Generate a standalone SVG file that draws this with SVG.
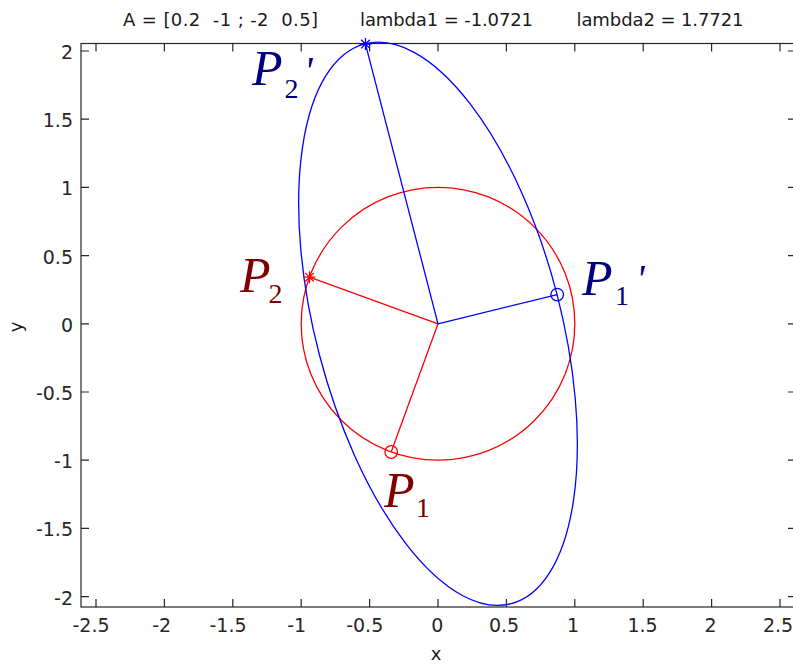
<svg xmlns="http://www.w3.org/2000/svg" width="793" height="664" viewBox="0 0 793 664">
<defs>
<style>
.ax{stroke:#262626;stroke-width:1.2;fill:none}
.tk{font-family:"DejaVu Sans",sans-serif;font-size:19px;fill:#262626}
.tkx{text-anchor:middle}
.tky{text-anchor:end}
.ttl{font-family:"DejaVu Sans",sans-serif;font-size:18px;fill:#1a1a1a}
.red{stroke:#ff0000;stroke-width:1.3;fill:none}
.blue{stroke:#0000ff;stroke-width:1.3;fill:none}
.lbl{font-family:"Liberation Serif","Times New Roman",serif}
.P{font-style:italic;font-size:50px}
.sub{font-size:28px}
.pr{font-style:italic;font-size:40px}
.dr{fill:#800000}
.nv{fill:#000080}
</style>
<path id="star" d="M-6,0H6M0,-6V6M-4.3,-4.3L4.3,4.3M-4.3,4.3L4.3,-4.3"/>
<circle id="ring" cx="0" cy="0" r="6.3"/>
</defs>
<rect width="793" height="664" fill="#ffffff"/>

<g id="title">
<text class="ttl" x="123" y="26" textLength="195" xml:space="preserve">A = [0.2  -1 ; -2  0.5]</text>
<text class="ttl" x="360" y="26" textLength="173">lambda1 = -1.0721</text>
<text class="ttl" x="576.5" y="26" textLength="167">lambda2 = 1.7721</text>
</g>

<g id="axes">
<rect class="ax" x="81" y="43.5" width="715" height="563.5"/>
<path class="ax" d="M96,607v-8M164.4,607v-8M232.8,607v-8M301.2,607v-8M369.6,607v-8M438,607v-8M506.4,607v-8M574.8,607v-8M643.2,607v-8M711.6,607v-8M780,607v-8
M96,43.5v8M164.4,43.5v8M232.8,43.5v8M301.2,43.5v8M369.6,43.5v8M438,43.5v8M506.4,43.5v8M574.8,43.5v8M643.2,43.5v8M711.6,43.5v8M780,43.5v8
M81,51h8M81,119.2h8M81,187.4h8M81,255.6h8M81,323.8h8M81,392h8M81,460.2h8M81,528.4h8M81,596.6h8
M796,51h-8M796,119.2h-8M796,187.4h-8M796,255.6h-8M796,323.8h-8M796,392h-8M796,460.2h-8M796,528.4h-8M796,596.6h-8"/>
<g class="tk tkx">
<text x="91" y="632">-2.5</text>
<text x="161.7" y="632">-2</text>
<text x="228" y="632">-1.5</text>
<text x="296.7" y="632">-1</text>
<text x="364.7" y="632">-0.5</text>
<text x="437.3" y="632">0</text>
<text x="504" y="632">0.5</text>
<text x="573" y="632">1</text>
<text x="642.5" y="632">1.5</text>
<text x="710.5" y="632">2</text>
<text x="778" y="632">2.5</text>
</g>
<g class="tk tky">
<text x="73" y="59">2</text>
<text x="73" y="127.2">1.5</text>
<text x="73" y="195.4">1</text>
<text x="73" y="263.6">0.5</text>
<text x="73" y="331.8">0</text>
<text x="73" y="400">-0.5</text>
<text x="73" y="468.2">-1</text>
<text x="73" y="536.4">-1.5</text>
<text x="73" y="604.6">-2</text>
</g>
<text class="ttl" x="436" y="660" text-anchor="middle">x</text>
<text class="ttl" transform="translate(22,327) rotate(-90)" text-anchor="middle">y</text>
</g>

<g id="unit-circle">
<ellipse class="red" cx="438" cy="323.8" rx="136.8" ry="136.4"/>
</g>
<g id="image-ellipse">
<ellipse class="blue" cx="438" cy="323.8" rx="289.3" ry="122.6" transform="rotate(75.36 438 323.8)"/>
</g>

<g id="connectors">
<path class="red" d="M438,323.8L391.2,452M438,323.8L309.5,277.2"/>
<path class="blue" d="M438,323.8L557.2,294.6M438,323.8L365.5,44.1"/>
</g>

<g id="P1">
<use href="#ring" x="391.2" y="452" class="red"/>
<text class="lbl dr"><tspan class="P" x="384" y="507">P</tspan><tspan class="sub" x="416" y="517">1</tspan></text>
</g>
<g id="P2">
<use href="#star" x="309.5" y="277.2" class="red"/>
<text class="lbl dr"><tspan class="P" x="240" y="291.5">P</tspan><tspan class="sub" x="268.5" y="303">2</tspan></text>
</g>
<g id="P1prime">
<use href="#ring" x="557.2" y="294.6" class="blue"/>
<text class="lbl nv"><tspan class="P" x="582" y="295">P</tspan><tspan class="sub" x="615" y="305">1</tspan><tspan class="pr" x="636" y="292">'</tspan></text>
</g>
<g id="P2prime">
<use href="#star" x="365.5" y="44.1" class="blue"/>
<text class="lbl nv"><tspan class="P" x="252" y="85">P</tspan><tspan class="sub" x="284.5" y="98">2</tspan><tspan class="pr" x="304" y="84">'</tspan></text>
</g>
</svg>
